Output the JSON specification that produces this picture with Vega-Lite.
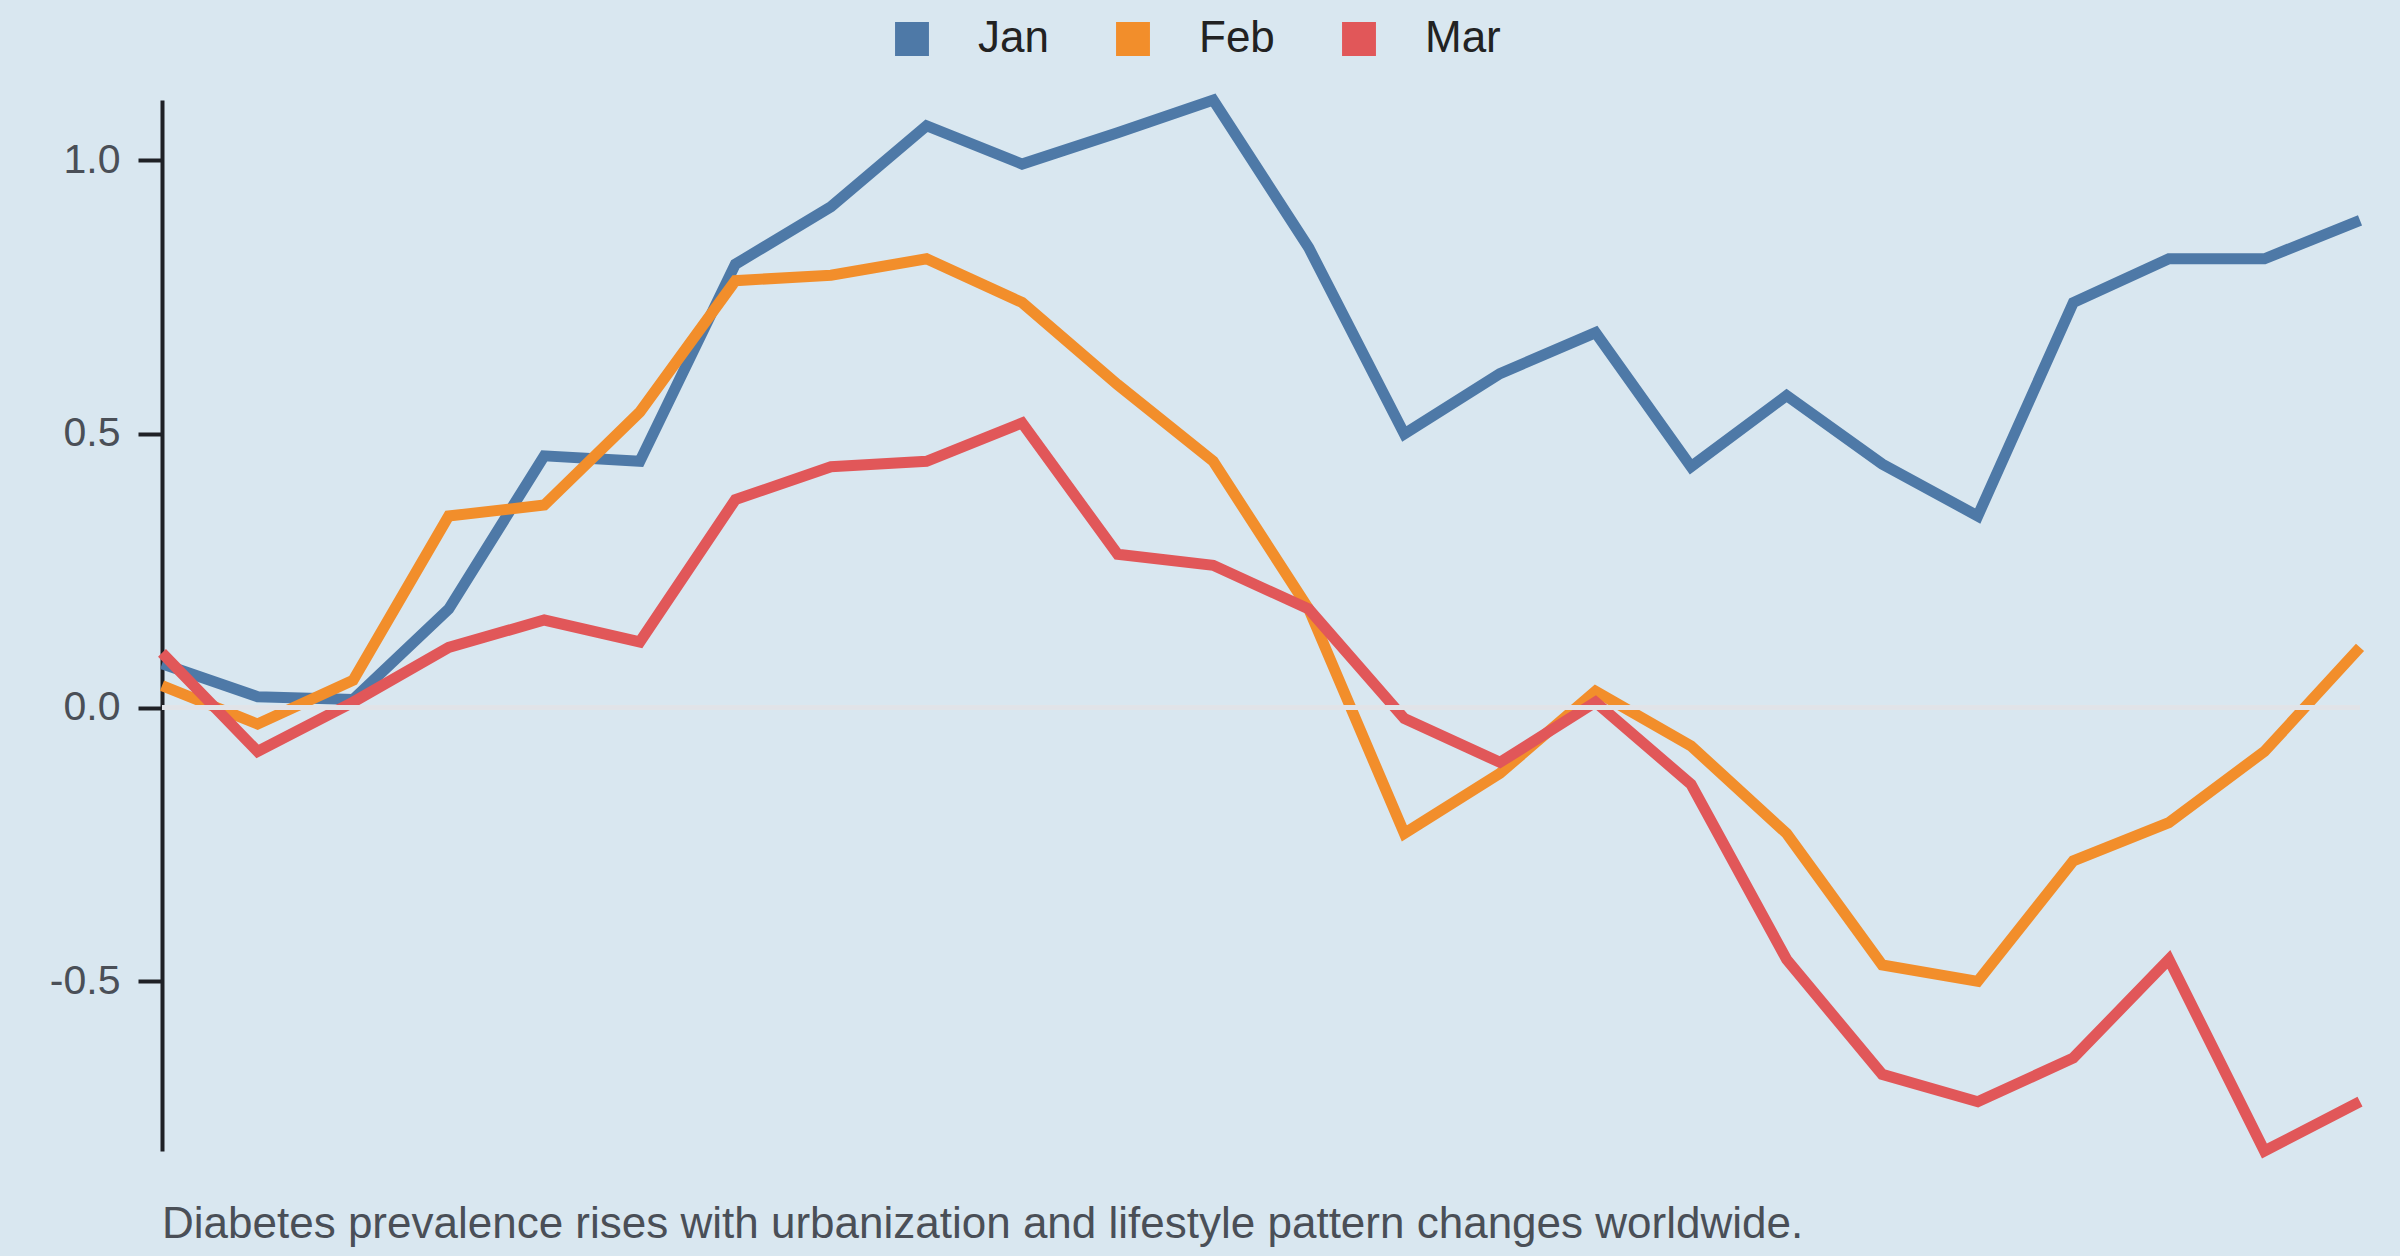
{
  "$schema": "https://vega.github.io/schema/vega-lite/v6.json",
  "width": 2198,
  "height": 1051,
  "autosize": {"type": "none"},
  "padding": {"left": 162, "top": 100, "right": 40, "bottom": 105},
  "background": "#d9e7f0",
  "title": {
    "text": "Diabetes prevalence rises with urbanization and lifestyle pattern changes worldwide.",
    "orient": "bottom",
    "anchor": "start",
    "frame": "group",
    "offset": 65,
    "baseline": "alphabetic",
    "font": "Liberation Sans",
    "fontSize": 44,
    "fontWeight": "normal",
    "color": "#4a4f57"
  },
  "config": {
    "view": {"stroke": null},
    "font": "Liberation Sans"
  },
  "data": {
    "values": [
      {"t": 0, "month": "Jan", "v": 0.08}, {"t": 1, "month": "Jan", "v": 0.02}, {"t": 2, "month": "Jan", "v": 0.015},
      {"t": 3, "month": "Jan", "v": 0.18}, {"t": 4, "month": "Jan", "v": 0.46}, {"t": 5, "month": "Jan", "v": 0.45},
      {"t": 6, "month": "Jan", "v": 0.81}, {"t": 7, "month": "Jan", "v": 0.915}, {"t": 8, "month": "Jan", "v": 1.063},
      {"t": 9, "month": "Jan", "v": 0.993}, {"t": 10, "month": "Jan", "v": 1.05}, {"t": 11, "month": "Jan", "v": 1.11},
      {"t": 12, "month": "Jan", "v": 0.84}, {"t": 13, "month": "Jan", "v": 0.5}, {"t": 14, "month": "Jan", "v": 0.61},
      {"t": 15, "month": "Jan", "v": 0.685}, {"t": 16, "month": "Jan", "v": 0.44}, {"t": 17, "month": "Jan", "v": 0.57},
      {"t": 18, "month": "Jan", "v": 0.445}, {"t": 19, "month": "Jan", "v": 0.35}, {"t": 20, "month": "Jan", "v": 0.74},
      {"t": 21, "month": "Jan", "v": 0.82}, {"t": 22, "month": "Jan", "v": 0.82}, {"t": 23, "month": "Jan", "v": 0.89},

      {"t": 0, "month": "Feb", "v": 0.04}, {"t": 1, "month": "Feb", "v": -0.03}, {"t": 2, "month": "Feb", "v": 0.05},
      {"t": 3, "month": "Feb", "v": 0.35}, {"t": 4, "month": "Feb", "v": 0.37}, {"t": 5, "month": "Feb", "v": 0.54},
      {"t": 6, "month": "Feb", "v": 0.78}, {"t": 7, "month": "Feb", "v": 0.79}, {"t": 8, "month": "Feb", "v": 0.82},
      {"t": 9, "month": "Feb", "v": 0.74}, {"t": 10, "month": "Feb", "v": 0.59}, {"t": 11, "month": "Feb", "v": 0.45},
      {"t": 12, "month": "Feb", "v": 0.18}, {"t": 13, "month": "Feb", "v": -0.23}, {"t": 14, "month": "Feb", "v": -0.12},
      {"t": 15, "month": "Feb", "v": 0.03}, {"t": 16, "month": "Feb", "v": -0.07}, {"t": 17, "month": "Feb", "v": -0.23},
      {"t": 18, "month": "Feb", "v": -0.47}, {"t": 19, "month": "Feb", "v": -0.5}, {"t": 20, "month": "Feb", "v": -0.28},
      {"t": 21, "month": "Feb", "v": -0.21}, {"t": 22, "month": "Feb", "v": -0.08}, {"t": 23, "month": "Feb", "v": 0.11},

      {"t": 0, "month": "Mar", "v": 0.1}, {"t": 1, "month": "Mar", "v": -0.08}, {"t": 2, "month": "Mar", "v": 0.01},
      {"t": 3, "month": "Mar", "v": 0.11}, {"t": 4, "month": "Mar", "v": 0.16}, {"t": 5, "month": "Mar", "v": 0.12},
      {"t": 6, "month": "Mar", "v": 0.38}, {"t": 7, "month": "Mar", "v": 0.44}, {"t": 8, "month": "Mar", "v": 0.45},
      {"t": 9, "month": "Mar", "v": 0.52}, {"t": 10, "month": "Mar", "v": 0.28}, {"t": 11, "month": "Mar", "v": 0.26},
      {"t": 12, "month": "Mar", "v": 0.18}, {"t": 13, "month": "Mar", "v": -0.02}, {"t": 14, "month": "Mar", "v": -0.1},
      {"t": 15, "month": "Mar", "v": 0.01}, {"t": 16, "month": "Mar", "v": -0.14}, {"t": 17, "month": "Mar", "v": -0.46},
      {"t": 18, "month": "Mar", "v": -0.67}, {"t": 19, "month": "Mar", "v": -0.72}, {"t": 20, "month": "Mar", "v": -0.64},
      {"t": 21, "month": "Mar", "v": -0.46}, {"t": 22, "month": "Mar", "v": -0.81}, {"t": 23, "month": "Mar", "v": -0.72}
    ]
  },
  "layer": [
    {
      "mark": {"type": "line", "strokeWidth": 11, "strokeCap": "butt", "strokeJoin": "miter"},
      "encoding": {
        "x": {
          "field": "t", "type": "quantitative",
          "scale": {"domain": [0, 23], "nice": false, "zero": false},
          "axis": null
        },
        "y": {
          "field": "v", "type": "quantitative",
          "scale": {"domain": [-0.81, 1.11], "nice": false, "zero": false},
          "axis": {
            "title": null,
            "values": [-0.5, 0, 0.5, 1],
            "labelExpr": "replace(format(datum.value, '.1f'), '\u2212', '-')",
            "grid": false,
            "domainColor": "#1f2126",
            "domainWidth": 4,
            "tickColor": "#1f2126",
            "tickWidth": 4,
            "tickSize": 24,
            "labelPadding": 18,
            "labelFont": "Liberation Sans",
            "labelFontSize": 41,
            "labelColor": "#4a4f57"
          }
        },
        "color": {
          "field": "month", "type": "nominal",
          "sort": ["Jan", "Feb", "Mar"],
          "scale": {"domain": ["Jan", "Feb", "Mar"], "range": ["#4e79a7", "#f28e2b", "#e15759"]},
          "legend": {
            "title": null,
            "orient": "none",
            "direction": "horizontal",
            "legendX": 728,
            "legendY": -83,
            "symbolType": "square",
            "symbolSize": 1150,
            "symbolStrokeWidth": 0,
            "symbolOpacity": 1,
            "labelFont": "Liberation Sans",
            "labelFontSize": 44,
            "labelColor": "#222222",
            "labelOffset": 44,
            "columnPadding": 62,
            "encode": {
              "symbols": {
                "update": {
                  "fill": {"scale": "color", "field": "value"},
                  "fillOpacity": {"value": 1},
                  "strokeWidth": {"value": 0}
                }
              }
            }
          }
        }
      }
    },
    {
      "mark": {"type": "rule", "color": "#e1e3e8", "strokeWidth": 4},
      "encoding": {"y": {"datum": 0}}
    }
  ]
}
